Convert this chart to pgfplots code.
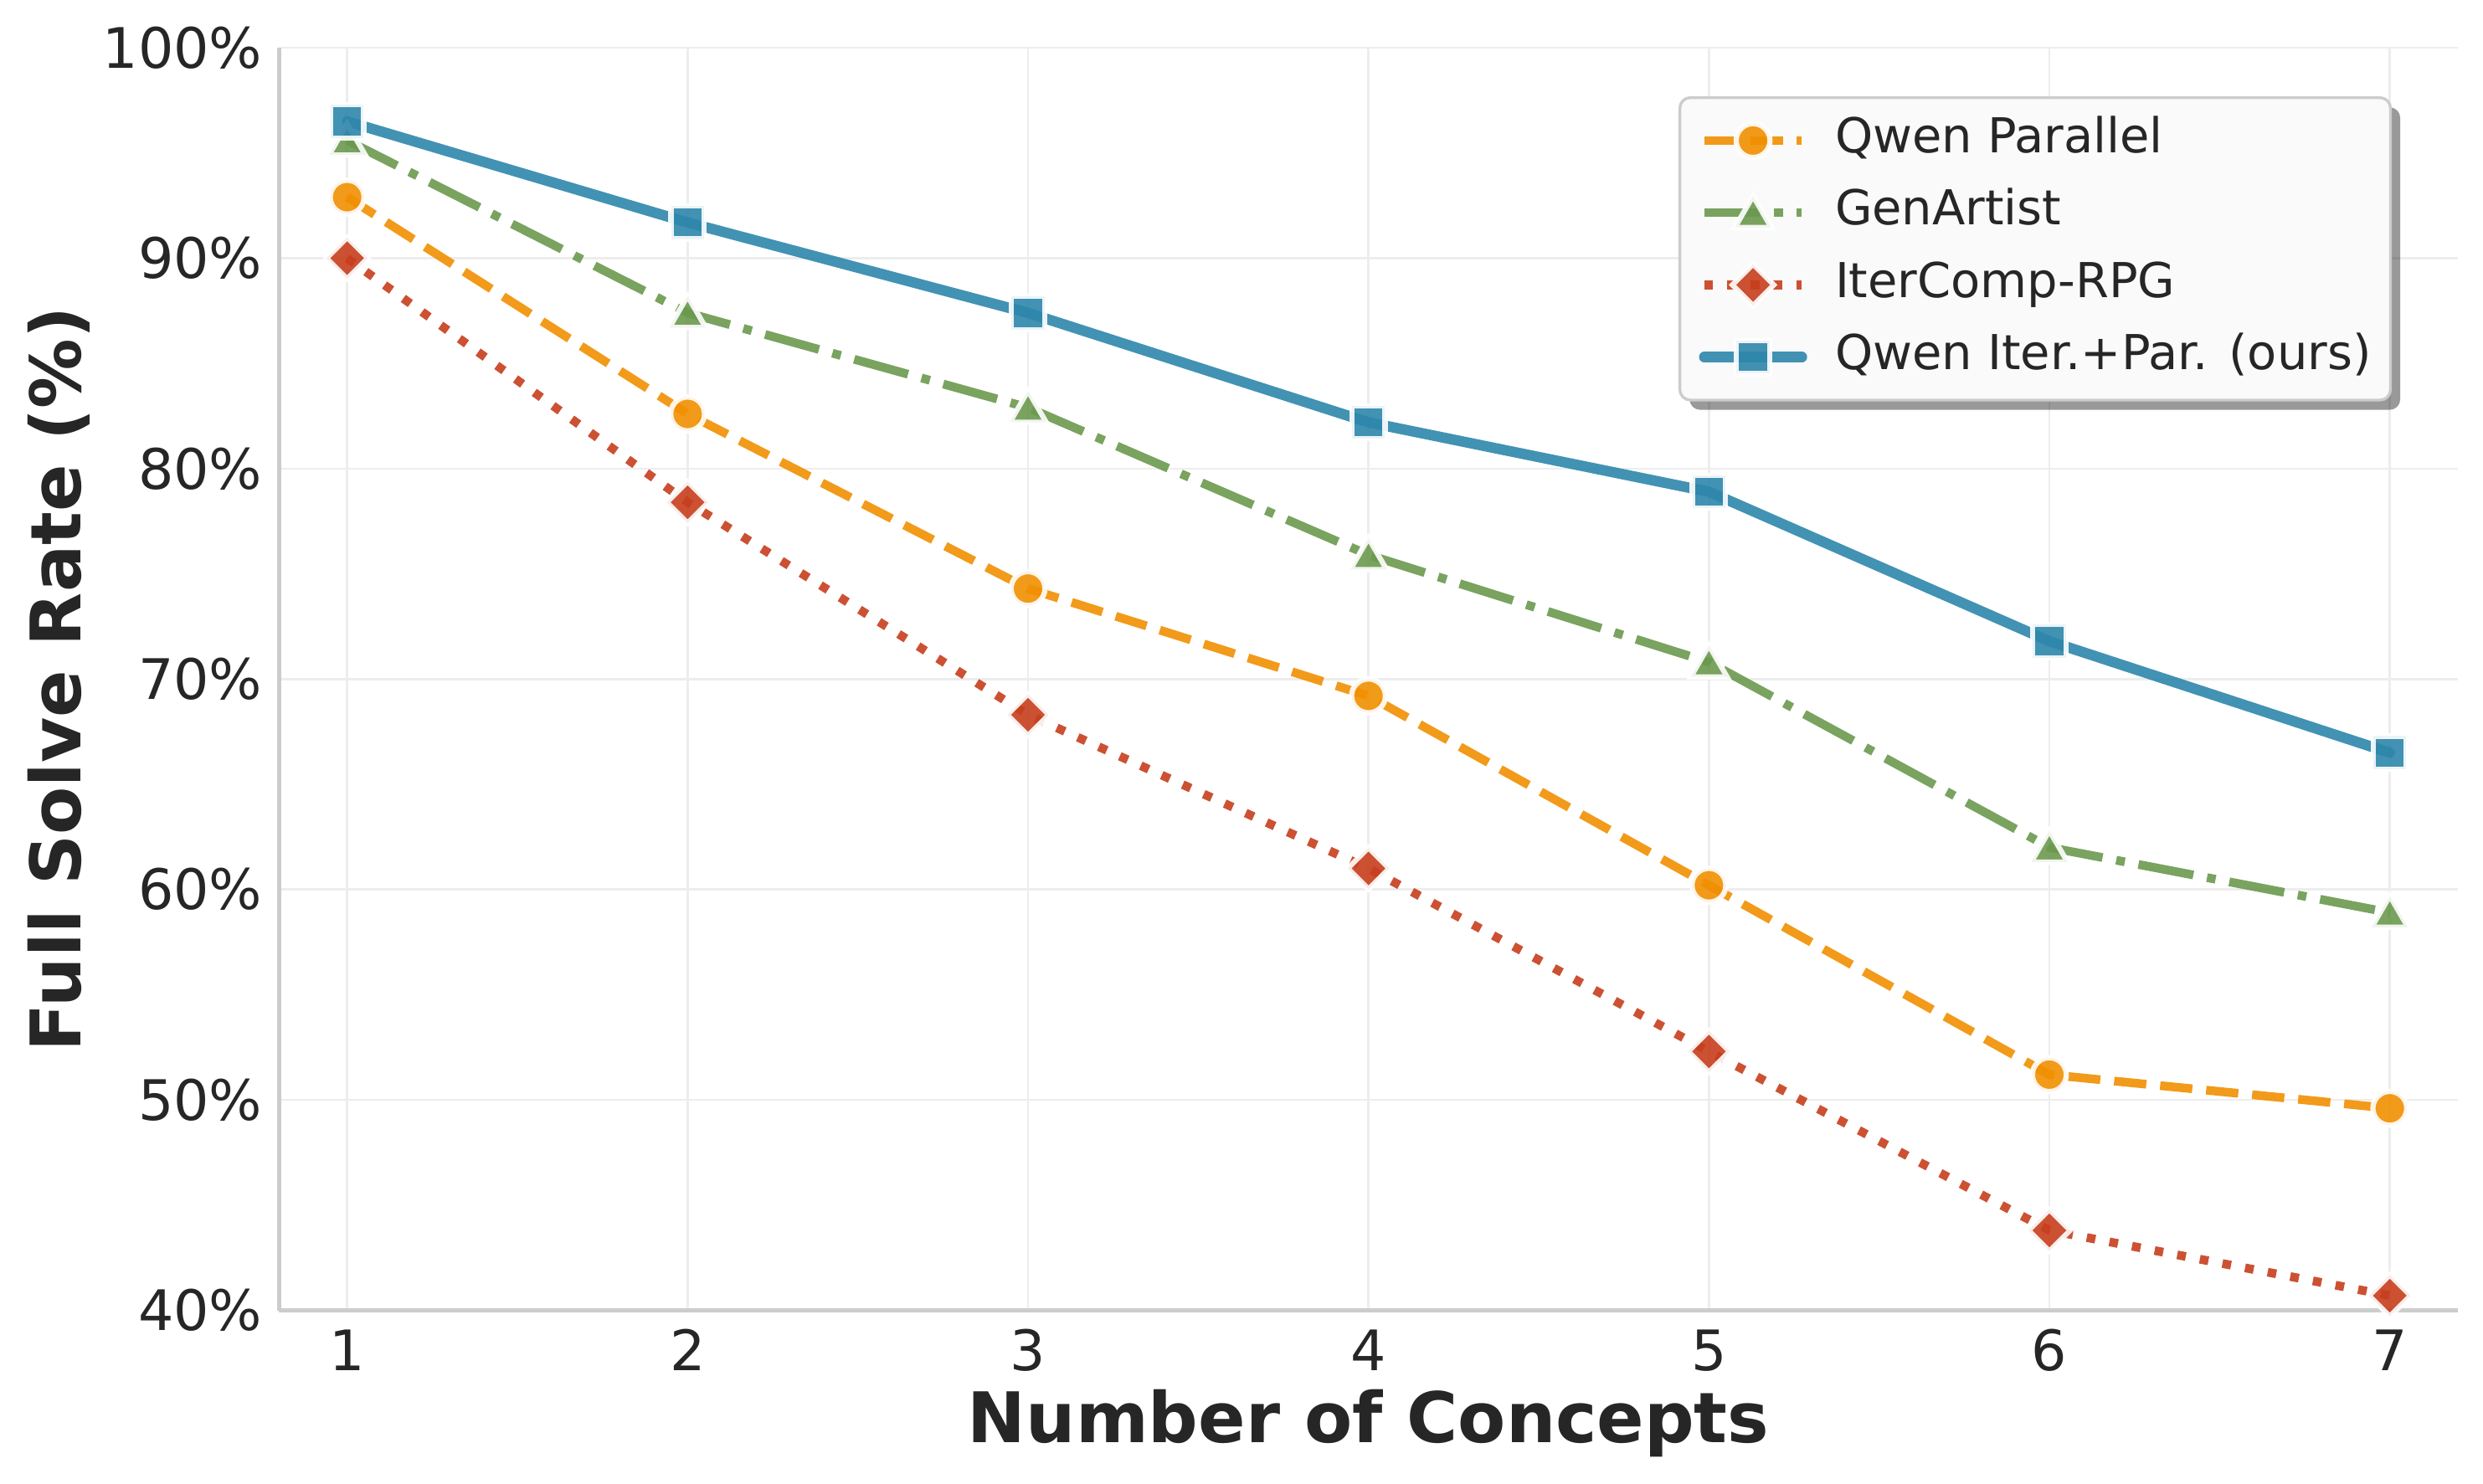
\documentclass[border=0pt]{standalone}
\usepackage{fontspec}
\setmainfont{DejaVu Sans}
\usepackage{pgfplots}
\pgfplotsset{compat=1.18}
\usetikzlibrary{shadows}

\definecolor{cblue}{HTML}{2E86AB}
\definecolor{cgreen}{HTML}{6A994E}
\definecolor{corange}{HTML}{F18F01}
\definecolor{cred}{HTML}{C73E1D}
\definecolor{txt}{HTML}{262626}

% keep the legend's drop shadow off the sample lines
\makeatletter
\tikzset{nopre/.code={\let\tikz@preactions\pgfutil@empty}}
\makeatother

\begin{document}
\begin{tikzpicture}
\useasboundingbox (-80pt,-49.7pt) rectangle (631.8pt,375.7pt);
\begin{axis}[
    at={(0,0)}, anchor=south west,
    scale only axis,
    width=624.6pt, height=362pt,
    xmin=0.8, xmax=7.2,
    ymin=40, ymax=100,
    xtick={1,2,3,4,5,6,7},
    xticklabels={1,2,3,4,5,6,7},
    ytick={40,50,60,70,80,90,100},
    yticklabels={40\%,50\%,60\%,70\%,80\%,90\%,100\%},
    major tick length=0pt,
    axis x line*=bottom, axis y line*=left,
    axis line style={draw=black!20, line width=1.2pt, -},
    grid=major,
    grid style={line width=0.6pt, draw=black!7},
    ticklabel style={font=\fontsize{16}{19}\selectfont, text=txt},
    xticklabel style={anchor=north, inner sep=0pt, yshift=-5.3pt},
    yticklabel style={anchor=east, inner sep=0pt, xshift=-4.6pt},
    xlabel={Number of Concepts},
    ylabel={Full Solve Rate (\%)},
    label style={font=\bfseries\fontsize{20}{24}\selectfont, text=txt},
    xlabel style={at={(axis description cs:0.5,-0.0895)}, anchor=center},
    ylabel style={at={(axis description cs:-0.1012,0.5)}, anchor=center},
    legend cell align=left,
    legend image code/.code={
        \draw[nopre, mark repeat=2, mark phase=2] plot coordinates {(0pt,0pt) (14pt,0pt) (28pt,0pt)};
    },
    legend style={
        at={(0.9697,0.9616)}, anchor=north east,
        draw=black!20, line width=0.8pt, fill=white!98!black,
        rounded corners=3pt,
        drop shadow={shadow xshift=2.8pt, shadow yshift=-2.8pt, fill=black, opacity=0.4},
        font=\fontsize{13.8}{16}\selectfont, text=txt,
        inner xsep=5.5pt, inner ysep=5.8pt,
        row sep=7.7pt, column sep=8pt,
        nodes={inner sep=0pt, text height=10pt, text depth=3pt},
    },
]

\addplot[color=corange, opacity=0.9, line width=2.5pt,
    dash pattern=on 9.25pt off 4pt,
    mark=*, mark size=4.85pt,
    mark options={solid, fill=corange, draw=white, line width=1.5pt}]
coordinates {(1,92.9) (2,82.6) (3,74.3) (4,69.2) (5,60.2) (6,51.2) (7,49.6)};
\addlegendentry{Qwen Parallel}

\addplot[color=cgreen, opacity=0.9, line width=2.5pt,
    dash pattern=on 16pt off 4pt on 2.5pt off 4pt,
    mark=triangle*, mark size=6pt,
    mark options={solid, yshift=-1.2pt, fill=cgreen, draw=white, line width=1.5pt}]
coordinates {(1,95.6) (2,87.4) (3,82.9) (4,75.9) (5,70.8) (6,62.0) (7,58.9)};
\addlegendentry{GenArtist}

\addplot[color=cred, opacity=0.9, line width=2.5pt,
    dash pattern=on 2.5pt off 4.1pt,
    mark=square*, mark size=4.2pt,
    mark options={solid, rotate=45, fill=cred, draw=white, line width=1.5pt}]
coordinates {(1,90.0) (2,78.4) (3,68.3) (4,61.0) (5,52.3) (6,43.8) (7,40.7)};
\addlegendentry{IterComp-RPG}

\addplot[color=cblue, opacity=0.9, line width=3pt, line cap=round,
    mark=square*, mark size=4.75pt,
    mark options={solid, fill=cblue, draw=white, line width=1.5pt}]
coordinates {(1,96.5) (2,91.7) (3,87.4) (4,82.2) (5,78.9) (6,71.8) (7,66.5)};
\addlegendentry{Qwen Iter.+Par. (ours)}

\end{axis}
\end{tikzpicture}
\end{document}
